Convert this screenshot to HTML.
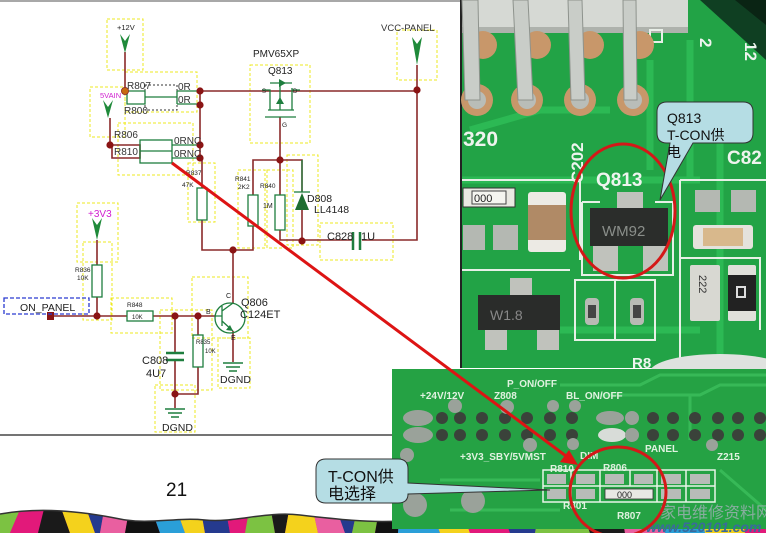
<!DOCTYPE html>
<html><head><meta charset="utf-8">
<style>
html,body{margin:0;padding:0;background:#fff;}
svg{display:block;}
text{font-family:"Liberation Sans","Noto Sans CJK SC",sans-serif;}
</style></head>
<body>
<svg width="766" height="533" viewBox="0 0 766 533" xmlns="http://www.w3.org/2000/svg">
<defs>
<clipPath id="band"><path d="M0,514 C40,507 80,511 120,519 C150,525 175,517 205,520 C235,523 265,511 300,515 C335,519 370,523 400,521 C500,516 600,520 766,518 L766,533 L0,533 Z"/></clipPath>
</defs>
<rect width="766" height="533" fill="#fff"/>

<!-- bottom colourful band -->
<g clip-path="url(#band)">
<rect x="0" y="500" width="766" height="33" fill="#d81f7c"/>
<polygon points="0,505 22,505 10,533 0,533" fill="#7cc242"/>
<polygon points="22,505 45,505 38,533 10,533" fill="#e2197a"/>
<polygon points="45,505 60,505 70,533 38,533" fill="#1a1a1a"/>
<polygon points="60,505 85,505 95,533 70,533" fill="#f4d21c"/>
<polygon points="85,505 105,505 100,533 95,533" fill="#253a8e"/>
<polygon points="105,505 130,505 125,533 100,533" fill="#e95fa0"/>
<polygon points="130,505 150,505 160,533 125,533" fill="#111"/>
<polygon points="150,505 175,505 185,533 160,533" fill="#2a9fd8"/>
<polygon points="175,505 200,505 205,533 185,533" fill="#f4d21c"/>
<polygon points="200,505 225,505 230,533 205,533" fill="#253a8e"/>
<polygon points="225,505 250,505 245,533 230,533" fill="#e2197a"/>
<polygon points="250,505 270,505 275,533 245,533" fill="#7cc242"/>
<polygon points="270,505 290,505 285,533 275,533" fill="#1a1a1a"/>
<polygon points="290,505 312,505 318,533 285,533" fill="#f4d21c"/>
<polygon points="312,505 335,505 345,533 318,533" fill="#e95fa0"/>
<polygon points="335,505 358,505 352,533 345,533" fill="#253a8e"/>
<polygon points="358,505 380,505 375,533 352,533" fill="#7cc242"/>
<polygon points="380,505 400,505 398,533 375,533" fill="#111"/>
<polygon points="400,505 430,505 440,533 398,533" fill="#2a9fd8"/>
<polygon points="430,505 460,505 470,533 440,533" fill="#f4d21c"/>
<polygon points="460,505 500,505 510,533 470,533" fill="#e2197a"/>
<polygon points="500,505 540,505 535,533 510,533" fill="#253a8e"/>
<polygon points="540,505 580,505 590,533 535,533" fill="#7cc242"/>
<polygon points="580,505 620,505 625,533 590,533" fill="#1a1a1a"/>
<polygon points="620,505 660,505 665,533 625,533" fill="#e95fa0"/>
<polygon points="660,505 700,505 705,533 665,533" fill="#2a9fd8"/>
<polygon points="700,505 740,505 745,533 705,533" fill="#f4d21c"/>
<polygon points="740,505 766,505 766,533 745,533" fill="#e2197a"/>
</g>
<path d="M0,514 C40,507 80,511 120,519 C150,525 175,517 205,520 C235,523 265,511 300,515 C335,519 370,523 400,521" fill="none" stroke="#333" stroke-width="1.5"/>

<!-- schematic frame -->
<rect x="0" y="0" width="462" height="2" fill="#a8a8a8"/>
<line x1="0" y1="435" x2="392" y2="435" stroke="#222" stroke-width="1.3"/>
<text x="166" y="496" font-size="19" fill="#111">21</text>

<!-- yellow dashed boxes -->
<g fill="none" stroke="#eeea20" stroke-width="1" stroke-dasharray="3,2">
<rect x="107" y="19" width="36" height="51"/>
<rect x="125" y="72" width="72" height="40"/>
<rect x="90" y="87" width="35" height="50"/>
<rect x="118" y="123" width="75" height="52"/>
<rect x="188" y="163" width="27" height="59"/>
<rect x="250" y="65" width="60" height="78"/>
<rect x="397" y="30" width="40" height="50"/>
<rect x="238" y="170" width="27" height="78"/>
<rect x="267" y="170" width="26" height="78"/>
<rect x="287" y="155" width="31" height="90"/>
<rect x="320" y="223" width="73" height="37"/>
<rect x="77" y="203" width="41" height="59"/>
<rect x="83" y="242" width="29" height="78"/>
<rect x="111" y="298" width="61" height="35"/>
<rect x="160" y="310" width="52" height="80"/>
<rect x="192" y="277" width="56" height="61"/>
<rect x="218" y="338" width="32" height="50"/>
<rect x="155" y="385" width="40" height="47"/>
</g>
<rect x="145" y="85" width="32" height="25" fill="none" stroke="#333" stroke-width="1" stroke-dasharray="2,2"/>

<!-- wires (brown) -->
<g fill="none" stroke="#8a2a2a" stroke-width="1.6">
<path d="M125,52 V91"/>
<path d="M200,91 H417 V240 H362"/>
<path d="M200,91 V158"/>
<path d="M110,118 V145"/>
<path d="M112,145 H140 V158 H112 Z"/>
<path d="M202,158 V188"/>
<path d="M202,220 V250 H253 V226"/>
<path d="M253,195 V160 H302 V192"/>
<path d="M280,117 V160"/>
<path d="M280,160 V195 M280,230 V240 H353"/>
<path d="M302,210 V241"/>
<path d="M417,65 V90"/>
<path d="M233,250 V303"/>
<path d="M97,240 V265 M97,297 V316"/>
<path d="M54,316 H127 M153,316 H215"/>
<path d="M175,316 V353 M175,360 V408"/>
<path d="M198,316 V335 M198,367 V394 H175"/>
<path d="M233,331 V362"/>
</g>

<!-- green component graphics -->
<g fill="none" stroke="#1e7e3e" stroke-width="1.3">
<path d="M125,91 H145 M127,91 h18 v13 h-18 z M145,97 H177 M177,91 V104 M177,91 H200 M177,104 H200"/>
<rect x="140" y="140" width="32" height="23"/>
<path d="M140,151 H172 M172,145 H200 M172,158 H200"/>
<rect x="197" y="188" width="10" height="32"/>
<rect x="248" y="195" width="10" height="31"/>
<rect x="275" y="195" width="10" height="35"/>
<path d="M262,90 H270 V110 M292,90 H300 M292,88 V110 M268,110 H294 M265,117 H296 M270,83 H292 M280,83 V110"/>
<path d="M294,192 H310"/>
<path d="M353,232 V250 M360,232 V250" stroke-width="2.5"/>
<path d="M302,192 V160"/>
<rect x="92" y="265" width="10" height="32"/>
<rect x="127" y="311" width="26" height="10"/>
<rect x="193" y="335" width="10" height="32"/>
<path d="M166,353 H184 M166,360 H184" stroke-width="2.5"/>
<circle cx="230" cy="318" r="15"/>
<path d="M215,316 H222 M222,306 V326 M222,311 L233,303 M222,321 L233,331"/>
<path d="M165,409 H185 M168,413 H182 M171,417 H179" stroke-width="1.6"/>
<path d="M223,363 H243 M226,367 H240 M229,371 H237" stroke-width="1.6"/>
</g>
<polygon points="295,210 309,210 302,193" fill="#1e6e30"/>
<polygon points="286,83 279,79 279,87" fill="#1e7e3e"/>
<polygon points="276,104 284,104 280,97" fill="#1e7e3e"/>
<polygon points="233,331 226,330 230,325" fill="#1e7e3e"/>
<!-- arrows (power symbols) -->
<g fill="#1f8a3a">
<polygon points="120,34 125,41 130,34 125,53"/>
<polygon points="103,100 108,107 113,100 108,118"/>
<polygon points="412,37 417,44 422,37 417,65"/>
<polygon points="92,218 97,225 102,218 97,240"/>
</g>
<!-- dots -->
<g fill="#8a1414">
<circle cx="200" cy="91" r="3.6"/><circle cx="200" cy="105" r="3.6"/>
<circle cx="200" cy="145" r="3.6"/><circle cx="200" cy="158" r="3.6"/>
<circle cx="110" cy="145" r="3.6"/><circle cx="417" cy="90" r="3.6"/>
<circle cx="280" cy="160" r="3.6"/><circle cx="302" cy="241" r="3.6"/>
<circle cx="233" cy="250" r="3.6"/><circle cx="97" cy="316" r="3.6"/>
<circle cx="175" cy="316" r="3.6"/><circle cx="198" cy="316" r="3.6"/>
<circle cx="175" cy="394" r="3.6"/>
<rect x="47" y="312" width="7" height="8"/>
</g>
<circle cx="125" cy="91" r="3.6" fill="#c86a10" stroke="#8a2a2a" stroke-width="0.8"/>
<rect x="4" y="298" width="85" height="16" fill="none" stroke="#2a3ad0" stroke-width="1.3" stroke-dasharray="4,2"/>

<!-- schematic labels -->
<g fill="#222">
<text x="117" y="30" font-size="7.5">+12V</text>
<text x="127" y="89" font-size="10" fill="#333">R807</text>
<text x="178" y="90" font-size="10" fill="#333">0R</text>
<text x="178" y="103" font-size="10" fill="#333">0R</text>
<text x="124" y="114" font-size="10" fill="#333">R800</text>
<text x="114" y="138" font-size="10" fill="#333">R806</text>
<text x="114" y="155" font-size="10" fill="#333">R810</text>
<text x="174" y="144" font-size="10" fill="#333">0RNC</text>
<text x="174" y="157" font-size="10" fill="#333">0RNC</text>
<text x="186" y="175" font-size="6.5">R837</text>
<text x="182" y="187" font-size="6.5">47K</text>
<text x="253" y="57" font-size="10">PMV65XP</text>
<text x="268" y="74" font-size="10">Q813</text>
<text x="262" y="93" font-size="6">S</text>
<text x="293" y="93" font-size="6">D</text>
<text x="282" y="127" font-size="6.5">G</text>
<text x="381" y="31" font-size="9.5" fill="#333">VCC-PANEL</text>
<text x="235" y="181" font-size="6.5">R841</text>
<text x="238" y="189" font-size="6.5">2K2</text>
<text x="260" y="188" font-size="6.5">R840</text>
<text x="263" y="208" font-size="7">1M</text>
<text x="307" y="202" font-size="10.5">D808</text>
<text x="314" y="213" font-size="10.5">LL4148</text>
<text x="327" y="240" font-size="11">C828</text>
<text x="361" y="240" font-size="11">1U</text>
<text x="75" y="272" font-size="6.5">R836</text>
<text x="77" y="280" font-size="6.5">10K</text>
<text x="20" y="311" font-size="10.5">ON_PANEL</text>
<text x="127" y="307" font-size="6.5">R848</text>
<text x="132" y="319" font-size="6">10K</text>
<text x="142" y="364" font-size="11">C808</text>
<text x="146" y="377" font-size="11">4U7</text>
<text x="196" y="344" font-size="6">R835</text>
<text x="205" y="353" font-size="6">10K</text>
<text x="206" y="314" font-size="7">B</text>
<text x="226" y="298" font-size="7">C</text>
<text x="231" y="340" font-size="7">E</text>
<text x="241" y="306" font-size="11">Q806</text>
<text x="240" y="318" font-size="11">C124ET</text>
<text x="162" y="431" font-size="10.5">DGND</text>
<text x="220" y="383" font-size="10.5">DGND</text>
</g>
<text x="100" y="98" font-size="7.5" fill="#d020d0">5VAIN</text>
<text x="88" y="217" font-size="10" fill="#d020d0">+3V3</text>

<!-- ===== top right photo ===== -->
<rect x="460" y="0" width="2" height="368" fill="#222"/>
<rect x="462" y="0" width="304" height="368" fill="#22a346"/>
<g fill="none" stroke="#2fbe58" stroke-width="7" opacity="0.8">
<path d="M462,180 H700 M470,130 L540,110 H610 M650,60 V170 M690,40 V180 M720,130 V360 M560,330 H700"/>
</g>
<polygon points="700,0 766,0 766,60" fill="#0f3f22"/>
<polygon points="735,0 766,0 766,25" fill="#0a2414"/>
<rect x="462" y="0" width="226" height="33" fill="#d6d9d4"/>
<rect x="462" y="27" width="226" height="6" fill="#aeb2ac"/>
<rect x="650" y="30" width="12" height="12" fill="none" stroke="#e8efe8" stroke-width="2"/>
<g fill="#c8976a"><circle cx="483" cy="45" r="14"/><circle cx="537" cy="45" r="14"/><circle cx="590" cy="45" r="14"/><circle cx="640" cy="45" r="14"/></g>
<g fill="#c8976a"><circle cx="477" cy="100" r="16"/><circle cx="527" cy="100" r="16"/><circle cx="580" cy="100" r="16"/><circle cx="633" cy="100" r="16"/></g>
<g fill="#b9bdb8"><circle cx="477" cy="100" r="9"/><circle cx="527" cy="100" r="9"/><circle cx="580" cy="100" r="9"/><circle cx="633" cy="100" r="9"/></g>
<g fill="#c9cdc8" stroke="#8e938d" stroke-width="1">
<polygon points="462,0 478,0 480,100 465,100"/>
<polygon points="513,0 528,0 533,100 518,100"/>
<polygon points="568,0 582,0 585,100 571,100"/>
<polygon points="623,0 636,0 637,100 624,100"/>
</g>
<g fill="#eef4ee" font-weight="bold">
<text x="463" y="146" font-size="21">320</text>
<text x="596" y="186" font-size="19">Q813</text>
<text x="727" y="164" font-size="19">C82</text>
<text transform="translate(583,183) rotate(-90)" font-size="17">C202</text>
<text transform="translate(700,38) rotate(90)" font-size="17">2</text>
<text transform="translate(745,42) rotate(90)" font-size="17">12</text>
<text x="632" y="368" font-size="15">R8</text>
</g>
<g fill="none" stroke="#e6f0e6" stroke-width="2">
<path d="M462,180 H580 V260"/>
<path d="M582,202 H600 M655,202 H673 V275 H582 V202"/>
<path d="M680,180 H766 M680,180 V360 M680,258 H760 V330"/>
<path d="M575,280 V340 H655 V280 Z M615,280 V340"/>
<path d="M462,270 H570"/>
</g>
<rect x="463" y="188" width="52" height="19" fill="#e9e9e2" stroke="#333" stroke-width="1"/>
<rect x="472" y="191" width="34" height="13" fill="#f5f5f0" stroke="#444"/>
<text x="474" y="202" font-size="11" fill="#222">000</text>
<rect x="528" y="192" width="38" height="60" rx="3" fill="#eceae4"/>
<rect x="528" y="205" width="38" height="35" fill="#b08a66"/>
<rect x="463" y="225" width="22" height="25" fill="#b4b8b2"/>
<rect x="493" y="225" width="25" height="25" fill="#b4b8b2"/>
<rect x="617" y="192" width="26" height="17" fill="#c0c2bc"/>
<rect x="590" y="208" width="78" height="38" fill="#2b2d2b"/>
<text x="602" y="236" font-size="15" fill="#8a8e8a">WM92</text>
<rect x="593" y="246" width="25" height="25" fill="#c0c2bc"/>
<rect x="643" y="246" width="25" height="25" fill="#c0c2bc"/>
<rect x="695" y="190" width="25" height="22" fill="#b4b8b2"/>
<rect x="731" y="190" width="25" height="22" fill="#b4b8b2"/>
<rect x="693" y="225" width="60" height="24" rx="3" fill="#e4e2dc"/>
<rect x="703" y="228" width="40" height="18" fill="#d8b88c"/>
<rect x="690" y="265" width="30" height="56" rx="2" fill="#d8d8d2"/>
<text transform="translate(699,275) rotate(90)" font-size="11" fill="#333">222</text>
<rect x="728" y="265" width="28" height="56" rx="2" fill="#e0e0da"/>
<rect x="728" y="275" width="28" height="36" fill="#222"/>
<rect x="737" y="287" width="8" height="10" fill="none" stroke="#ddd" stroke-width="2"/>
<rect x="510" y="278" width="22" height="18" fill="#c0c2bc"/>
<rect x="478" y="295" width="82" height="35" fill="#2a2c2a"/>
<text x="490" y="320" font-size="14" fill="#888">W1.8</text>
<rect x="485" y="330" width="22" height="20" fill="#c0c2bc"/>
<rect x="537" y="330" width="22" height="20" fill="#c0c2bc"/>
<rect x="585" y="298" width="14" height="27" rx="4" fill="#b8bab4"/>
<rect x="588" y="305" width="8" height="13" fill="#444"/>
<rect x="630" y="298" width="14" height="27" rx="4" fill="#b8bab4"/>
<rect x="633" y="305" width="8" height="13" fill="#444"/>
<ellipse cx="720" cy="372" rx="70" ry="18" fill="#dfe2df"/>

<!-- ===== bottom photo ===== -->
<rect x="392" y="369" width="374" height="160" fill="#25a244"/>
<g fill="none" stroke="#3cbf5c" stroke-width="3" opacity="0.8">
<path d="M560,385 H640 L660,375 H766 M600,395 H700 L720,385 H766 M690,395 V440 M720,470 L766,510 M440,480 H540 M450,510 H560"/>
</g>
<g fill="#e0f2e0" font-weight="bold" font-size="10">
<text x="507" y="387">P_ON/OFF</text>
<text x="420" y="399">+24V/12V</text>
<text x="494" y="399">Z808</text>
<text x="566" y="399">BL_ON/OFF</text>
<text x="460" y="460">+3V3_SBY/5VMST</text>
<text x="580" y="459">DIM</text>
<text x="645" y="452">PANEL</text>
<text x="717" y="460">Z215</text>
<text x="550" y="472">R810</text>
<text x="603" y="471">R806</text>
<text x="563" y="509">R801</text>
<text x="617" y="519">R807</text>
</g>
<g fill="#3a423a">
<circle cx="442" cy="418" r="6"/><circle cx="460" cy="418" r="6"/><circle cx="482" cy="418" r="6"/><circle cx="505" cy="418" r="6"/><circle cx="527" cy="418" r="6"/><circle cx="550" cy="418" r="6"/><circle cx="572" cy="418" r="6"/><circle cx="653" cy="418" r="6"/><circle cx="673" cy="418" r="6"/><circle cx="695" cy="418" r="6"/><circle cx="718" cy="418" r="6"/><circle cx="738" cy="418" r="6"/><circle cx="760" cy="418" r="6"/>
<circle cx="442" cy="435" r="6"/><circle cx="460" cy="435" r="6"/><circle cx="482" cy="435" r="6"/><circle cx="505" cy="435" r="6"/><circle cx="527" cy="435" r="6"/><circle cx="550" cy="435" r="6"/><circle cx="572" cy="435" r="6"/><circle cx="653" cy="435" r="6"/><circle cx="673" cy="435" r="6"/><circle cx="695" cy="435" r="6"/><circle cx="718" cy="435" r="6"/><circle cx="738" cy="435" r="6"/><circle cx="760" cy="435" r="6"/>
</g>
<g fill="#9aa29a">
<ellipse cx="418" cy="418" rx="15" ry="8"/><ellipse cx="418" cy="435" rx="15" ry="8"/>
<ellipse cx="610" cy="418" rx="14" ry="7"/><ellipse cx="612" cy="435" rx="14" ry="7" fill="#d8dcd8"/>
<circle cx="632" cy="418" r="7"/><circle cx="632" cy="435" r="7"/>
<circle cx="455" cy="406" r="7"/><circle cx="507" cy="407" r="7"/><circle cx="553" cy="406" r="6"/><circle cx="575" cy="406" r="6"/>
<circle cx="530" cy="445" r="7"/><circle cx="573" cy="444" r="6"/><circle cx="712" cy="445" r="6"/>
<circle cx="407" cy="455" r="7"/><circle cx="415" cy="505" r="12"/><circle cx="473" cy="501" r="12"/>
</g>
<g fill="none" stroke="#e8f4e8" stroke-width="1.5">
<rect x="543" y="470" width="172" height="32"/>
<path d="M543,486 H715 M571,470 V502 M600,470 V502 M630,470 V486 M657,470 V502 M686,470 V502"/>
</g>
<g fill="#b8bcb8">
<rect x="547" y="474" width="19" height="10"/><rect x="576" y="474" width="19" height="10"/><rect x="605" y="474" width="19" height="10"/><rect x="634" y="474" width="19" height="10"/><rect x="661" y="474" width="20" height="10"/><rect x="690" y="474" width="20" height="10"/>
<rect x="547" y="489" width="19" height="10"/><rect x="576" y="489" width="19" height="10"/><rect x="661" y="489" width="20" height="10"/><rect x="690" y="489" width="20" height="10"/>
</g>
<rect x="605" y="489" width="48" height="10" fill="#e8e8e4" stroke="#333" stroke-width="0.8"/>
<text x="617" y="498" font-size="9" fill="#222">000</text>
<text x="660" y="518" font-size="16" fill="#9ab0b0" opacity="0.85" font-family="'Noto Sans CJK SC',sans-serif">家电维修资料网</text>
<text x="646" y="532" font-size="14" font-weight="bold" font-style="italic" fill="#3a6a9c">www.520101.com</text>

<!-- red annotations -->
<line x1="172" y1="163" x2="566" y2="456" stroke="#dd1414" stroke-width="3"/>
<polygon points="578,465 560,462 569,450" fill="#dd1414"/>
<ellipse cx="623" cy="211" rx="52" ry="67" fill="none" stroke="#d41818" stroke-width="3"/>
<ellipse cx="618" cy="492" rx="48" ry="45" fill="none" stroke="#d41818" stroke-width="3"/>

<!-- callouts -->
<path d="M667,102 H743 Q753,102 753,112 V133 Q753,143 743,143 H693 L660,200 L670,143 H667 Q657,143 657,133 V112 Q657,102 667,102 Z" fill="#b5dde4" stroke="#333" stroke-width="1"/>
<text x="667" y="123" font-size="14" fill="#111">Q813</text>
<text x="667" y="140" font-size="14" fill="#111">T-CON供</text>
<text x="667" y="157" font-size="14" fill="#111">电</text>
<path d="M326,459 H398 Q408,459 408,469 V483 L550,490 L408,494 Q408,503 398,503 H326 Q316,503 316,493 V469 Q316,459 326,459 Z" fill="#b5dde4" stroke="#333" stroke-width="1"/>
<text x="328" y="482" font-size="16" fill="#111">T-CON供</text>
<text x="328" y="499" font-size="16" fill="#111">电选择</text>
</svg>
</body></html>
